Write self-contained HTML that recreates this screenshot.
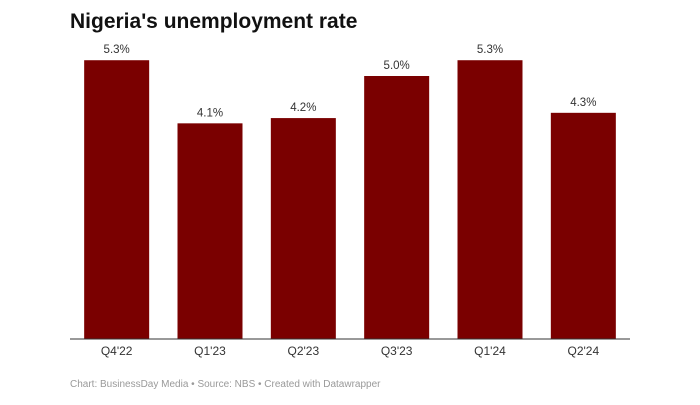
<!DOCTYPE html>
<html><head><meta charset="utf-8"><style>
body{margin:0;background:#fff;width:700px;height:400px;overflow:hidden;font-family:"Liberation Sans",sans-serif}
</style></head><body>
<svg width="700" height="400">
<text x="70" y="28" font-size="21" font-weight="bold" fill="#111">Nigeria's unemployment rate</text>
<g id="bars"></g>
<line x1="70" x2="630" y1="339" y2="339" stroke="#333" stroke-width="1"/>
<text x="70" y="387" font-size="10" fill="#999">Chart: BusinessDay Media • Source: NBS • Created with Datawrapper</text>
</svg>
<script>
const categories=["Q4'22","Q1'23","Q2'23","Q3'23","Q1'24","Q2'24"];
const values=[5.3,4.1,4.2,5.0,5.3,4.3];
const valueLabels=["5.3%","4.1%","4.2%","5.0%","5.3%","4.3%"];
const left=70,right=630,base=339,pxPerUnit=52.6;
const band=(right-left)/categories.length;
const xCenter=i=>left+band*i+band/2;
const y=v=>base-v*pxPerUnit;
const g=document.getElementById('bars');
const ns="http://www.w3.org/2000/svg";
categories.forEach((c,i)=>{
  const r=document.createElementNS(ns,'rect');
  r.setAttribute('x',xCenter(i)-32.5);r.setAttribute('width',65);
  r.setAttribute('y',y(values[i]));r.setAttribute('height',base-y(values[i]));
  r.setAttribute('fill','#7a0000');
  
  
  g.appendChild(r);
  const t=document.createElementNS(ns,'text');
  t.setAttribute('x',xCenter(i));t.setAttribute('y',y(values[i])-7);
  t.setAttribute('text-anchor','middle');t.setAttribute('font-size','11.5');t.setAttribute('fill','#333');
  t.textContent=valueLabels[i];
  
  
  g.appendChild(t);
  const l=document.createElementNS(ns,'text');
  l.setAttribute('x',xCenter(i));l.setAttribute('y',355);
  l.setAttribute('text-anchor','middle');l.setAttribute('font-size','12');l.setAttribute('fill','#333');
  l.textContent=c;
  
  
  g.appendChild(l);
});
</script>
</body></html>
